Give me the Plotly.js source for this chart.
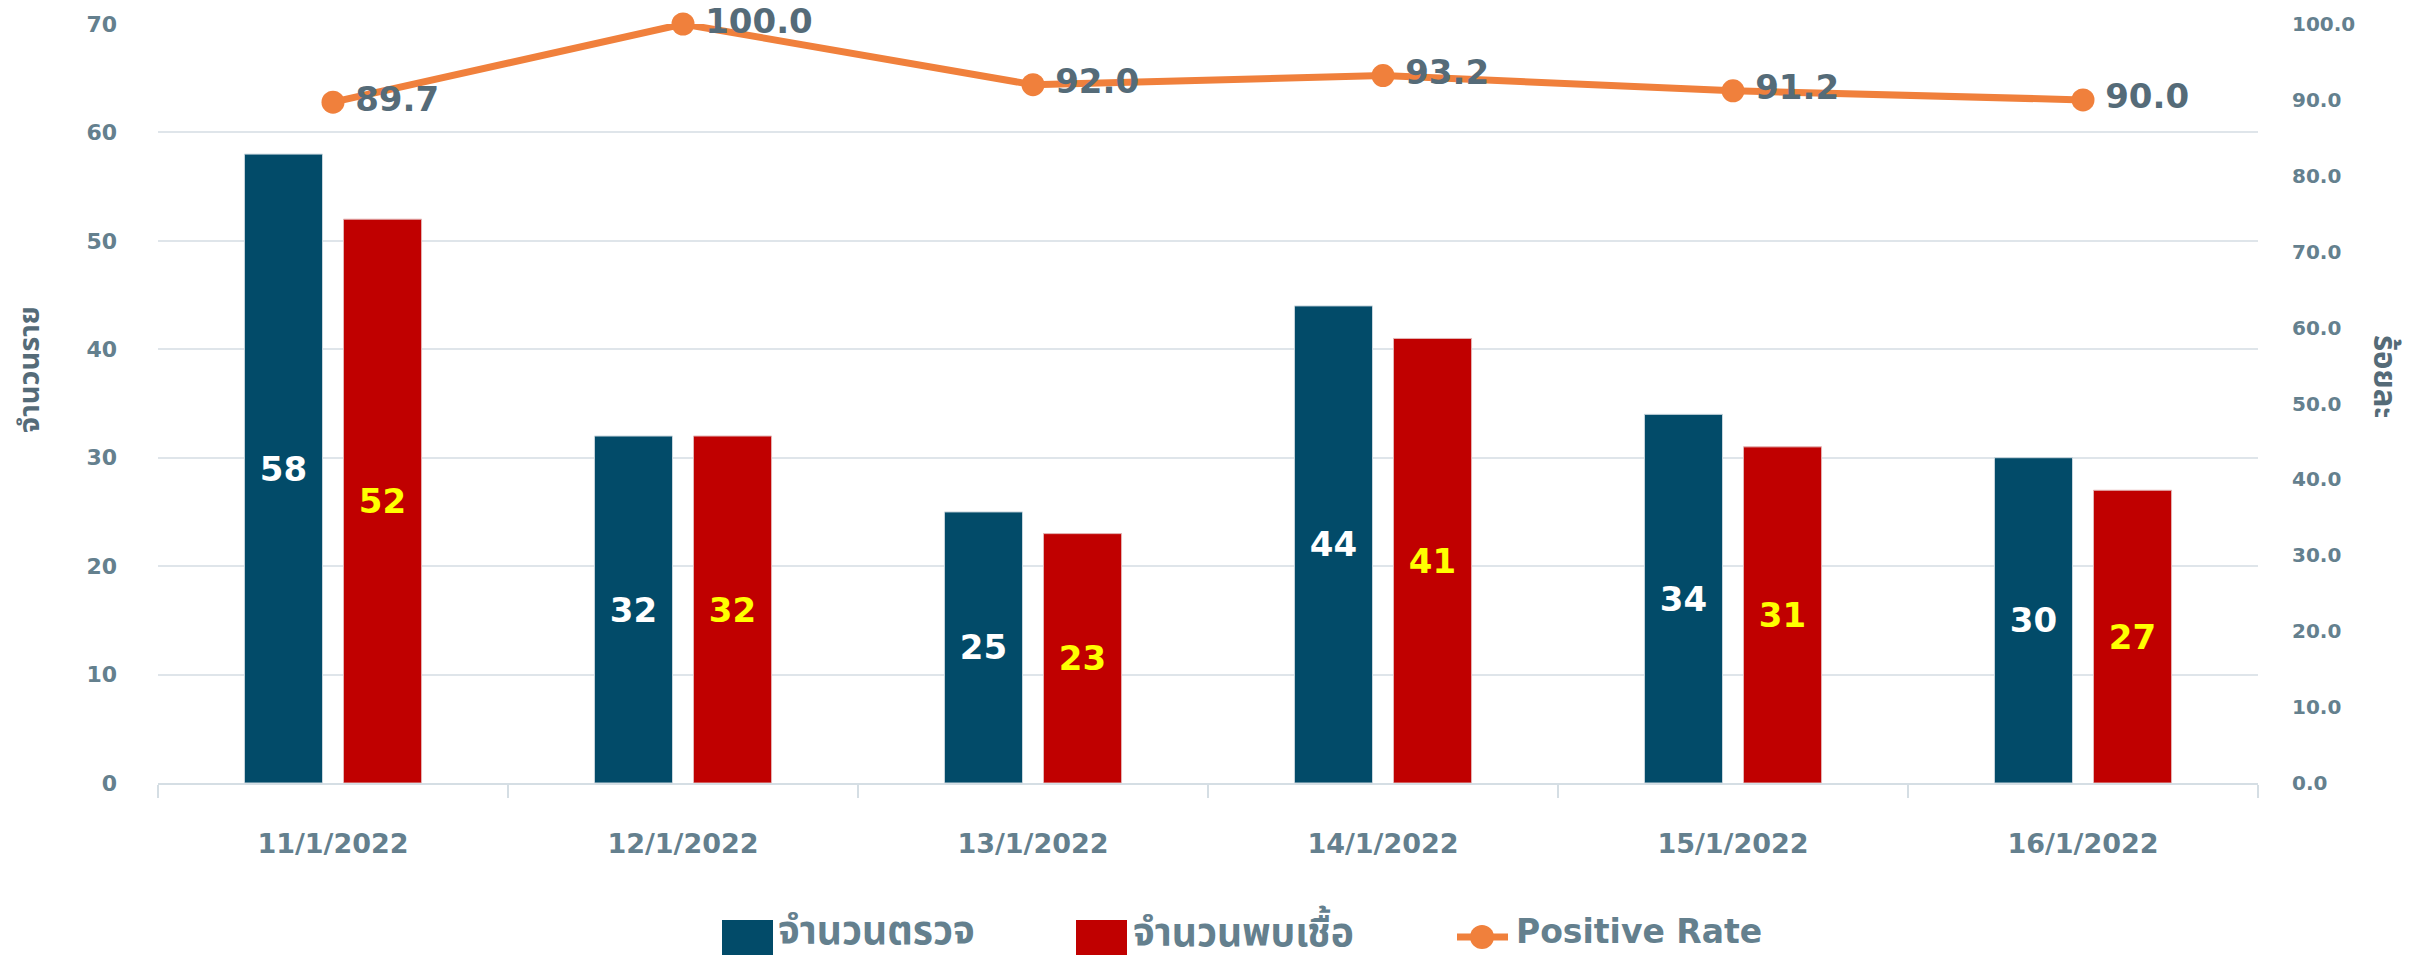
<!DOCTYPE html>
<html>
<head>
<meta charset="utf-8">
<script src="https://cdn.plot.ly/plotly-3.0.1.min.js"></script>
<style>
  html, body { margin: 0; padding: 0; background: #ffffff; }
  #chart { width: 2425px; height: 955px; }
</style>
</head>
<body>
<div id="chart"></div>
<script>
// ---- data ----
const categories = ["11/1/2022", "12/1/2022", "13/1/2022", "14/1/2022", "15/1/2022", "16/1/2022"];
const tested = [58, 32, 25, 44, 34, 30];
const positive = [52, 32, 23, 41, 31, 27];
const positiveRate = [89.7, 100.0, 92.0, 93.2, 91.2, 90.0];
const seriesNames = ["จำนวนตรวจ", "จำนวนพบเชื้อ", "Positive Rate"];
const leftTitle = "จำนวนราย";
const rightTitle = "ร้อยละ";

// ---- styles ----
const W = 2425, H = 955;
const M = { l: 158, r: 167, t: 24, b: 172 };
const blue = "#024B69", red = "#C00000", orange = "#F0803C";
const tickColor = "#64808E", labelColor = "#556B78";
const FONT = "DejaVu Sans, Noto Sans, Noto Sans Thai, Loma, Garuda, sans-serif";
const plotW = W - M.l - M.r, plotH = H - M.t - M.b;
const px = x => (x - M.l) / plotW;
const py = y => (H - M.b - y) / plotH;

const traces = [
  {
    type: "bar", name: seriesNames[0], x: categories, y: tested,
    marker: { color: blue, line: { color: "#c9d6de", width: 1 } },
    text: tested.map(String), textposition: "inside", insidetextanchor: "middle",
    constraintext: "none",
    textfont: { family: FONT, size: 34, color: "#ffffff", weight: "bold" },
    showlegend: false, hoverinfo: "skip"
  },
  {
    type: "bar", name: seriesNames[1], x: categories, y: positive,
    marker: { color: red, line: { color: "#e3b5b5", width: 1 } },
    text: positive.map(String), textposition: "inside", insidetextanchor: "middle",
    constraintext: "none",
    textfont: { family: FONT, size: 34, color: "#FFFF00", weight: "bold" },
    showlegend: false, hoverinfo: "skip"
  },
  {
    type: "scatter", mode: "lines+markers+text", name: seriesNames[2],
    x: categories, y: positiveRate, yaxis: "y2",
    line: { color: orange, width: 7 },
    marker: { color: orange, size: 23 },
    text: positiveRate.map(v => v.toFixed(1)), textposition: "middle right",
    texttemplate: "\u2009%{text}",
    textfont: { family: FONT, size: 34, color: labelColor, weight: "bold" },
    cliponaxis: false, showlegend: false, hoverinfo: "skip"
  }
];

// custom legend (layout decoration only)
const legY = 930;
const shapes = [
  { type: "rect", xref: "paper", yref: "paper", x0: px(722), x1: px(773), y0: py(920), y1: py(958), fillcolor: blue, line: { width: 0 } },
  { type: "rect", xref: "paper", yref: "paper", x0: px(1076), x1: px(1127), y0: py(920), y1: py(958), fillcolor: red, line: { width: 0 } },
  { type: "line", xref: "paper", yref: "paper", x0: px(1457), x1: px(1508), y0: py(937), y1: py(937), line: { color: orange, width: 7 } },
  { type: "circle", xref: "paper", yref: "paper", x0: px(1470), x1: px(1494), y0: py(937 - 12), y1: py(937 + 12), fillcolor: orange, line: { width: 0 } }
];
const thaiLegFont = { family: FONT, size: 39, color: tickColor, weight: "bold" };
const legFont = { family: FONT, size: 33, color: tickColor, weight: "bold" };
const annotations = [
  { xref: "paper", yref: "paper", x: px(776), y: py(legY), xanchor: "left", yanchor: "middle", text: seriesNames[0], showarrow: false, font: thaiLegFont },
  { xref: "paper", yref: "paper", x: px(1131), y: py(legY), xanchor: "left", yanchor: "middle", text: seriesNames[1], showarrow: false, font: thaiLegFont },
  { xref: "paper", yref: "paper", x: px(1514), y: py(932), xanchor: "left", yanchor: "middle", text: seriesNames[2], showarrow: false, font: legFont },
  { xref: "paper", yref: "paper", x: px(29), y: py(370), xanchor: "center", yanchor: "middle", text: leftTitle, textangle: -90, showarrow: false,
    font: { family: FONT, size: 29, color: labelColor, weight: "bold" } },
  { xref: "paper", yref: "paper", x: px(2385), y: py(376), xanchor: "center", yanchor: "middle", text: rightTitle, textangle: 90, showarrow: false,
    font: { family: FONT, size: 31, color: labelColor, weight: "bold" } }
];

const layout = {
  width: W, height: H,
  margin: M,
  paper_bgcolor: "#ffffff", plot_bgcolor: "#ffffff",
  barmode: "group", bargap: 0.434, bargroupgap: 0.212,
  showlegend: false, hovermode: false,
  xaxis: {
    type: "category", showgrid: false, showline: true, linecolor: "#d5dee4", linewidth: 2,
    ticks: "outside", tickson: "boundaries", ticklen: 13, tickcolor: "#d5dee4", tickwidth: 2,
    ticklabelstandoff: 36,
    tickfont: { family: FONT, size: 27, color: tickColor, weight: "bold" },
    zeroline: false
  },
  yaxis: {
    range: [0, 70], dtick: 10, tick0: 0, showgrid: true, gridcolor: "#dfe5ea", gridwidth: 2,
    zeroline: false, showline: false, ticks: "",
    ticklabelstandoff: 40,
    tickfont: { family: FONT, size: 22, color: tickColor, weight: "bold" }
  },
  yaxis2: {
    overlaying: "y", side: "right", range: [0, 100], dtick: 10, tick0: 0,
    tickformat: ".1f", showgrid: false, zeroline: false, showline: false, ticks: "",
    ticklabelstandoff: 33,
    tickfont: { family: FONT, size: 20, color: tickColor, weight: "bold" }
  },
  shapes: shapes,
  annotations: annotations
};

Plotly.newPlot("chart", traces, layout, { displayModeBar: false, staticPlot: true });
</script>
</body>
</html>
